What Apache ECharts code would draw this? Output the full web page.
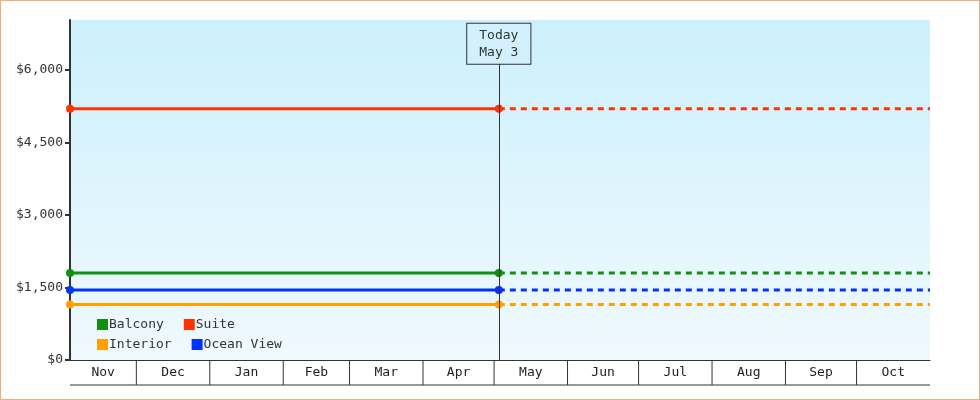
<!DOCTYPE html><html><head><meta charset="utf-8">
<script src="https://cdn.jsdelivr.net/npm/echarts@6/dist/echarts.min.js"></script>
<style>html,body{margin:0;padding:0}#w{position:relative;width:980px;height:400px}#c{width:980px;height:400px}#b{position:absolute;left:0;top:0;width:980px;height:400px;box-sizing:border-box;border:1px solid #eeb077;pointer-events:none}</style></head><body>
<div id="w"><div id="c"></div><div id="b"></div></div>
<script>
const startDate='2024-11-03', todayDate='2025-05-03', endDate='2025-11-01';
const names=['Balcony','Suite','Interior','Ocean View'];
const colors=['#109010','#ff3300','#ffa000','#0033ff'];
const prices=[1800,5200,1150,1450];
const monthStarts=['2024-11-03','2024-12-01','2025-01-01','2025-02-01','2025-03-01','2025-04-01','2025-05-01','2025-06-01','2025-07-01','2025-08-01','2025-09-01','2025-10-01','2025-11-01'];
const monthLabels=['Nov','Dec','Jan','Feb','Mar','Apr','May','Jun','Jul','Aug','Sep','Oct'];
const yTicks=[0,1500,3000,4500,6000];
const font='DejaVu Sans Mono';
const t=s=>new Date(s+'T00:00:00').getTime();
const series=[];
names.forEach((n,i)=>{
  series.push({name:n,type:'line',data:[[t(startDate),prices[i]],[t(todayDate),prices[i]]],
    lineStyle:{width:3,color:colors[i]},itemStyle:{color:colors[i]},symbol:'circle',symbolSize:8,showSymbol:true,silent:true,z:3});
  series.push({name:n,type:'line',data:[[t(todayDate),prices[i]],[t(endDate),prices[i]]],
    lineStyle:{width:3,color:colors[i],type:[6,5]},itemStyle:{color:colors[i]},showSymbol:false,silent:true,z:3});
});
series[0].markLine={symbol:'none',silent:true,lineStyle:{color:'#333',width:1,type:'solid'},
  label:{show:true,position:'end',distance:0,formatter:'Today\nMay 3',fontFamily:font,fontSize:13,color:'#333',lineHeight:17,
    backgroundColor:'#d2f1fc',borderColor:'#333',borderWidth:1,padding:[3,12,3,12]},
  data:[[{coord:[t(todayDate),0]},{coord:[t(todayDate),6130]}]]};
const months=monthLabels.map((m,i)=>[t(monthStarts[i]),t(monthStarts[i+1]),m,i]);
series.push({type:'custom',xAxisIndex:1,yAxisIndex:1,silent:true,data:months,
  renderItem:(p,api)=>{
    const a=api.coord([api.value(0),1]),b=api.coord([api.value(1),0]);
    const ch=[{type:'text',style:{x:(a[0]+b[0])/2,y:(a[1]+b[1])/2,text:monthLabels[api.value(3)],align:'center',verticalAlign:'middle',font:'13px '+font,fill:'#222'}},
      {type:'line',shape:{x1:a[0],y1:b[1],x2:b[0],y2:b[1]},style:{stroke:'#333',lineWidth:1}}];
    if(api.value(3)>0) ch.push({type:'line',shape:{x1:a[0],y1:a[1],x2:a[0],y2:b[1]},style:{stroke:'#333',lineWidth:1}});
    return {type:'group',children:ch};
  }});
const lg=(data,top)=>({left:92,top:top,itemWidth:11,itemHeight:11,itemGap:20,icon:'rect',
    data:data,textStyle:{fontFamily:font,fontSize:13,color:'#333',padding:[0,0,0,-4]},selectedMode:false});
const chart=echarts.init(document.getElementById('c'));
chart.setOption({
  animation:false,
  grid:[{left:70,right:50,top:20,bottom:40,show:true,borderWidth:0,
    backgroundColor:new echarts.graphic.LinearGradient(0,0,0,1,[{offset:0,color:'#ccf0fc'},{offset:1,color:'#f0f9fe'}])},
    {left:70,right:50,top:360,height:25}],
  legend:[lg(['Balcony','Suite'],313),lg(['Interior','Ocean View'],333)],
  xAxis:[{type:'time',min:t(startDate),max:t(endDate),axisLine:{show:true,lineStyle:{color:'#333'}},axisTick:{show:false},axisLabel:{show:false},splitLine:{show:false}},
    {type:'time',gridIndex:1,min:t(startDate),max:t(endDate),show:false}],
  yAxis:[{type:'value',min:0,max:7034,interval:1500,axisLine:{show:true,lineStyle:{color:'#333',width:2}},
    axisTick:{show:true,length:5,lineStyle:{color:'#333',width:2}},splitLine:{show:false},
    axisLabel:{showMaxLabel:false,fontFamily:font,fontSize:13,color:'#333',margin:7,formatter:v=>yTicks.includes(v)?'$'+v.toLocaleString('en-US'):''}},
    {type:'value',gridIndex:1,min:0,max:1,show:false}],
  series
});
</script></body></html>
